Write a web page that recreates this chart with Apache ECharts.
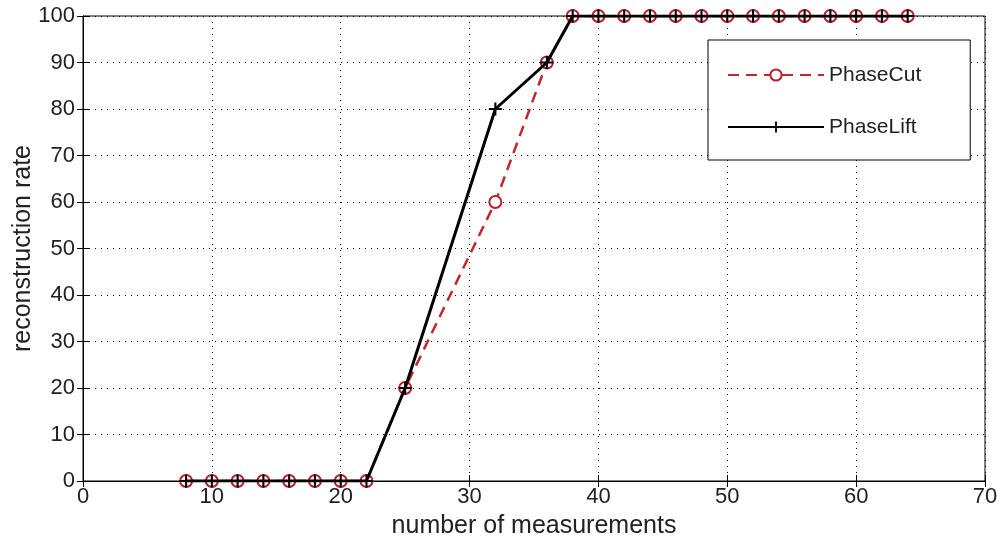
<!DOCTYPE html>
<html>
<head>
<meta charset="utf-8">
<script src="https://cdn.jsdelivr.net/npm/echarts@6/dist/echarts.min.js"></script>
<style>
  html, body { margin: 0; padding: 0; background: #fff; }
  #chart { width: 998px; height: 546px; }
</style>
</head>
<body>
<div id="chart"></div>
<script>
// number of measurements
const measurements = [8, 10, 12, 14, 16, 18, 20, 22, 25, 32, 36, 38, 40, 42, 44, 46, 48, 50, 52, 54, 56, 58, 60, 62, 64];
// reconstruction rate (%)
const phaseCut  = [0, 0, 0, 0, 0, 0, 0, 0, 20, 60, 90, 100, 100, 100, 100, 100, 100, 100, 100, 100, 100, 100, 100, 100, 100];
const phaseLift = [0, 0, 0, 0, 0, 0, 0, 0, 20, 80, 90, 100, 100, 100, 100, 100, 100, 100, 100, 100, 100, 100, 100, 100, 100];

const pairs = (xs, ys) => xs.map((x, i) => [x, ys[i]]);
const FONT = '"Liberation Sans", Arial, sans-serif';
const plusPath = 'path://M4.2,0H5.8V4.2H10V5.8H5.8V10H4.2V5.8H0V4.2H4.2Z';

const axisCommon = {
  axisLine: { show: true, onZero: false, lineStyle: { color: '#000', width: 1 } },
  axisTick: { show: true, inside: true, length: 6, lineStyle: { color: '#000' } },
  axisLabel: { color: '#222', fontFamily: FONT, fontSize: 22 },
  splitLine: { show: true, lineStyle: { color: '#000', type: [1, 5], width: 1 } }
};

const chart = echarts.init(document.getElementById('chart'));
chart.setOption({
  animation: false,
  backgroundColor: '#fff',
  grid: {
    left: 83, right: 13, top: 16, bottom: 65,
    containLabel: false, outerBoundsMode: 'none',
    show: true, borderColor: '#000', borderWidth: 1, backgroundColor: 'transparent'
  },
  xAxis: [
    Object.assign({}, axisCommon, {
      type: 'value', min: 0, max: 70, interval: 10, position: 'bottom',
      name: 'number of measurements', nameLocation: 'middle', nameGap: 33,
      nameMoveOverlap: false,
      nameTextStyle: { color: '#222', fontFamily: FONT, fontSize: 25 },
      axisLabel: Object.assign({}, axisCommon.axisLabel, { margin: 5 })
    }),
    {
      type: 'value', min: 0, max: 70, interval: 10, position: 'top',
      axisLine: { show: false }, axisLabel: { show: false }, splitLine: { show: false },
      axisTick: { show: true, inside: true, length: 6, lineStyle: { color: '#000' } }
    }
  ],
  yAxis: [
    Object.assign({}, axisCommon, {
      type: 'value', min: 0, max: 100, interval: 10, position: 'left',
      name: 'reconstruction rate', nameLocation: 'middle', nameGap: 47,
      nameMoveOverlap: false,
      nameTextStyle: { color: '#222', fontFamily: FONT, fontSize: 25 },
      axisLabel: Object.assign({}, axisCommon.axisLabel, { margin: 8 })
    }),
    {
      type: 'value', min: 0, max: 100, interval: 10, position: 'right',
      axisLine: { show: false }, axisLabel: { show: false }, splitLine: { show: false },
      axisTick: { show: true, inside: true, length: 6, lineStyle: { color: '#000' } }
    }
  ],
  legend: {
    orient: 'vertical',
    left: 708, top: 40,
    padding: [23, 49, 21, 19],
    itemWidth: 96, itemHeight: 14, itemGap: 28,
    backgroundColor: '#fff',
    borderColor: '#000', borderWidth: 1,
    textStyle: { color: '#222', fontFamily: FONT, fontSize: 21, lineHeight: 24 },
    data: ['PhaseCut', 'PhaseLift']
  },
  series: [
    {
      name: 'PhaseCut', type: 'line',
      data: pairs(measurements, phaseCut),
      symbol: 'emptyCircle', symbolSize: 12,
      lineStyle: { color: '#c0282d', width: 2.5, type: [11, 7] },
      itemStyle: { color: '#b8202a', borderColor: '#b8202a', borderWidth: 2.4 },
      z: 2
    },
    {
      name: 'PhaseLift', type: 'line',
      data: pairs(measurements, phaseLift),
      symbol: plusPath, symbolSize: 13,
      lineStyle: { color: '#000', width: 3 },
      itemStyle: { color: '#000' },
      z: 3
    }
  ]
});
</script>
</body>
</html>
